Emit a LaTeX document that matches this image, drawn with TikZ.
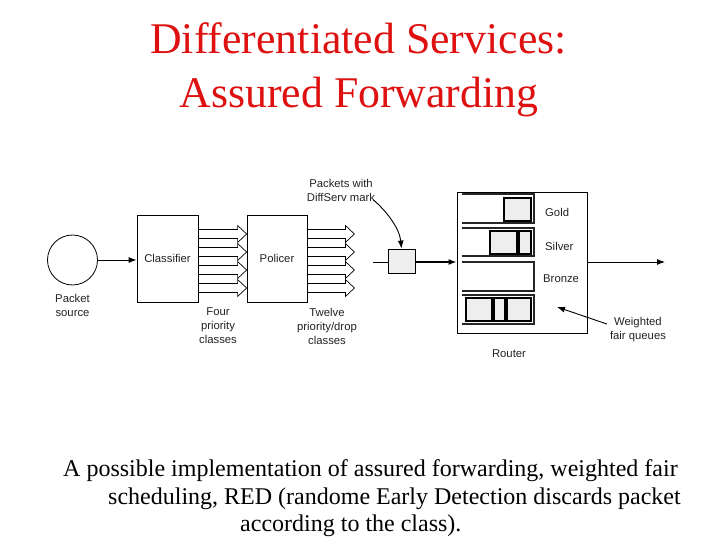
\documentclass[tikz,border=0pt]{standalone}
\usepackage{fontspec}
\setmainfont{Liberation Serif}
\setsansfont{Liberation Sans}
\usetikzlibrary{arrows.meta,positioning,calc,backgrounds}
\definecolor{titlered}{RGB}{222,16,16}
\definecolor{pktgray}{HTML}{EEEEEE}
\definecolor{txtgray}{HTML}{222222}
\newcommand{\diagfont}{\sffamily\fontsize{11.3}{14}\selectfont\color{txtgray}}

\begin{document}
\begin{tikzpicture}[x=1pt, y=-1pt,
    box/.style={draw, line width=0.8pt, font=\diagfont},
    hollow/.style={draw, line width=0.7pt, fill=white},
    arrow/.style={-{Latex[length=8pt,width=6pt]}, line width=0.9pt},
    label/.style={font=\diagfont, align=center, inner sep=0pt},
    queue/.style={draw, line width=1.2pt, black!85},
    pkt/.style={draw, line width=1.1pt, fill=pktgray}
]
\useasboundingbox (0,0) rectangle (720,540);

% --- title ---
\node[titlered, font=\fontsize{43.8}{50}\selectfont, anchor=base] (title) at (358.5,54) {Differentiated Services:};
\node[titlered, font=\fontsize{43.8}{50}\selectfont, anchor=base] (subtitle) at (359,108) {Assured Forwarding};

% --- blocks ---
\node[box, circle, minimum size=50pt, inner sep=0pt] (src) at (72.5,260) {};
\node[box, minimum width=61pt, minimum height=87pt] (cls) at (167.5,258.5) {Classifier};
\node[box, minimum width=60pt, minimum height=87pt] (pol) at (277,258.5) {Policer};
\node[box, fill=pktgray, minimum width=27pt, minimum height=24pt] (mark) at (401.5,261) {};
\node[box, minimum width=130pt, minimum height=141pt] (router) at (522,262.5) {};

% --- labels ---
\node[label] (srclbl) at (72.5,305.5) {Packet\\source};
\node[label] (four) at (218,326) {Four\\priority\\classes};
\node[label] (twelve) at (327,326) {Twelve\\priority/drop\\classes};
\node[label] (marklbl) at (341,190.5) {Packets with\\DiffServ mark};
\node[label] (routerlbl) at (509,354) {Router};
\node[label] (wfq) at (638,330) {Weighted\\fair queues};
\node[label, anchor=west] (gold) at (545,212) {Gold};
\node[label, anchor=west] (silver) at (545,246) {Silver};
\node[label, anchor=west] (bronze) at (543,279) {Bronze};

% --- queues ---
\foreach \top/\bot in {194/223, 228/256, 262/291, 295/324}
  \draw[queue] (462,\top) -- (534,\top) -- (534,\bot) -- (462,\bot);
\draw[pkt] (504,198) rectangle (531,221);
\draw[pkt] (490,231) rectangle (517,254);
\draw[pkt] (519,231) rectangle (531,254);
\draw[pkt] (466,298) rectangle (492,321);
\draw[pkt] (494,298) rectangle (505,321);
\draw[pkt] (507,298) rectangle (531,321);

% --- hollow class arrows ---
\begin{scope}[on background layer]
\foreach \dy in {-24.5,-6.5,11.5,29.5} {
  \draw[hollow] ($(cls.east)+(0,\dy-4.5)$) -- ($(pol.west)+(-9,\dy-4.5)$)
    -- ($(pol.west)+(-9,\dy-8.5)$) -- ($(pol.west)+(0,\dy)$)
    -- ($(pol.west)+(-9,\dy+8.5)$) -- ($(pol.west)+(-9,\dy+4.5)$)
    -- ($(cls.east)+(0,\dy+4.5)$);
  \draw[hollow] ($(pol.east)+(0,\dy-4.5)$) -- ($(pol.east)+(38,\dy-4.5)$)
    -- ($(pol.east)+(38,\dy-8.5)$) -- ($(pol.east)+(47,\dy)$)
    -- ($(pol.east)+(38,\dy+8.5)$) -- ($(pol.east)+(38,\dy+4.5)$)
    -- ($(pol.east)+(0,\dy+4.5)$);
}
\end{scope}

% --- connectors ---
\coordinate (in) at (373,262);
\coordinate (out) at (665,262);
\coordinate (wfqtip) at (557,307);
\draw[arrow] (src.east) -- (cls.west |- src.east);
\draw[line width=0.9pt] (in) -- (mark.west |- in);
\draw[arrow, line width=1.3pt] (mark.east |- in) -- (router.west |- in);
\draw[arrow] (router.east |- out) -- (out);
\draw[arrow] ([xshift=-2pt,yshift=2pt]marklbl.south east) .. controls +(14,12) and +(-2,-20) .. (mark.north);
\draw[arrow] ([xshift=-3pt,yshift=6pt]wfq.west) -- (wfqtip);

% --- caption ---
\node[font=\fontsize{24}{28}\selectfont, anchor=base west, inner sep=0pt] (cap1) at (63,476) {A possible implementation of assured forwarding, weighted fair};
\node[font=\fontsize{24}{28}\selectfont, anchor=base west, inner sep=0pt] (cap2) at (108,504) {scheduling, RED (randome Early Detection discards packet};
\node[font=\fontsize{24}{28}\selectfont, anchor=base west, inner sep=0pt] (cap3) at (240,531) {according to the class).};
\end{tikzpicture}
\end{document}
